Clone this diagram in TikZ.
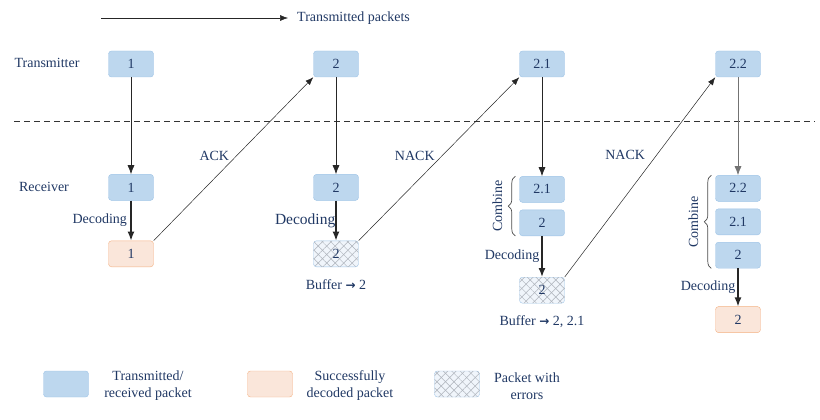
\documentclass[tikz,border=0pt]{standalone}
\usepackage{fontspec}
\setmainfont{Liberation Serif}
\newfontfamily\arrowfont{DejaVu Sans}
\usetikzlibrary{arrows.meta,positioning,calc,decorations.pathreplacing,patterns.meta}
\definecolor{navy}{RGB}{32,56,100}
\definecolor{pktblue}{RGB}{189,215,238}
\definecolor{pktedge}{RGB}{157,195,230}
\definecolor{okfill}{RGB}{250,230,218}
\definecolor{okedge}{RGB}{244,177,131}
\definecolor{errfill}{RGB}{240,245,251}
\definecolor{hatch}{RGB}{172,178,186}
\newcommand{\buffarrow}{{\arrowfont\bfseries\fontsize{12}{14}\selectfont →}}

\begin{document}
\begin{tikzpicture}[x=1pt, y=-1pt, font=\fontsize{14}{17}\selectfont, text=navy,
                    box/.style={draw=pktedge, fill=pktblue, rounded corners=3pt, minimum width=45pt, minimum height=26pt, inner sep=0pt, text centered},
                    okbox/.style={box, draw=okedge, fill=okfill},
                    errbox/.style={box, fill=errfill,
                        postaction={pattern={Lines[angle=45,distance=6pt,line width=0.5pt]}, pattern color=hatch},
                        postaction={pattern={Lines[angle=-45,distance=6pt,line width=0.5pt]}, pattern color=hatch}},
                    line/.style={draw=black!85, line width=0.7pt, -{Latex[length=9pt,width=7pt]}},
                    thick line/.style={line, line width=1.4pt},
                    thin line/.style={draw=black!85, line width=0.5pt, -{Latex[length=8pt,width=6pt]}},
                    brace/.style={draw=black!70, line width=0.7pt, decorate, decoration={brace, amplitude=7pt}},
                    lbl/.style={text=navy}]
    \useasboundingbox (0,0) rectangle (820,420);

    % Nodes
    \coordinate (arrowstart) at (101,18);
    \node [lbl, anchor=west, inner xsep=9pt] (txpackets) at (288,18) {Transmitted packets};
    \coordinate (dashL) at (14,121);
    \coordinate (dashR) at (815,121);
    \node [lbl] (txname) at (47,63)  {Transmitter};
    \node [lbl] (rxname) at (44,187) {Receiver};

    \node [box]                         (tx1)   at (131,64) {1};
    \node [box]                         (tx2)   at (336,64) {2};
    \node [box]                         (tx21)  at (542,64) {2.1};
    \node [box]                         (tx22)  at (738,64) {2.2};
    \node [box, below=97pt of tx1]      (rx1)   {1};
    \node [okbox, below=40pt of rx1]    (ok1)   {1};
    \node [box, below=97pt of tx2]      (rx2)   {2};
    \node [errbox, below=40pt of rx2]   (err2)  {2};
    \node [lbl, below=9pt of err2]      (buf2)  {Buffer \buffarrow{} 2};
    \node [box, below=99pt of tx21]     (rx21)  {2.1};
    \node [box, below=7pt of rx21]      (rx2b)  {2};
    \node [errbox, below=41pt of rx2b]  (err3)  {2};
    \node [lbl, below=9pt of err3]      (buf3)  {Buffer \buffarrow{} 2, 2.1};
    \node [box, below=98pt of tx22]     (rx22)  {2.2};
    \node [box, below=7pt of rx22]      (rx21b) {2.1};
    \node [box, below=7pt of rx21b]     (rx2c)  {2};
    \node [okbox, below=38pt of rx2c]   (ok2)   {2};
    \node [lbl, rotate=90] (comb3) at ($(rx21.south west)!0.5!(rx2b.north west) + (-22,0)$) {Combine};
    \node [lbl, rotate=90] (comb4) at ($(rx21b.west) + (-22,0)$) {Combine};

    % Legend
    \node [box]                (keytx)   at (66,384)  {};
    \node [lbl, align=center]  (keytxt)  at (148,386) {Transmitted/\\received packet};
    \node [okbox]              (keyok)   at (270,384) {};
    \node [lbl, align=center]  (keyokt)  at (350,386) {Successfully\\decoded packet};
    \node [errbox]             (keyerr)  at (457,384) {};
    \node [lbl, align=center]  (keyerrt) at (527,386) {Packet with\\errors};

    % Paths
    \path [thin line] (arrowstart) -- (txpackets);
    \draw [black!80, line width=0.6pt, dash pattern=on 6pt off 4pt] (dashL) -- (dashR);
    \path [line] (tx1) -- (rx1);
    \path [thick line] (rx1) -- node [lbl, midway, left] {Decoding} (ok1);
    \path [thin line] (ok1.north east) -- node [lbl, pos=0.52, left=4pt] {ACK} (tx2.south west);
    \path [line] (tx2) -- (rx2);
    \path [thick line] (rx2) -- node [lbl, midway, left, inner xsep=0pt, font=\fontsize{15.5}{18}\selectfont] {Decoding} (err2);
    \path [thin line] (err2.north east) -- node [lbl, pos=0.52, left=4pt] {NACK} (tx21.south west);
    \path [line] (tx21) -- (rx21);
    \path [thick line] (rx2b) -- node [lbl, midway, left, inner xsep=2pt] {Decoding} (err3);
    \path [thin line] (err3.north east) -- node [lbl, pos=0.61, left=8pt] {NACK} (tx22.south west);
    \path [line, draw=black!55] (tx22) -- (rx22);
    \path [thick line] (rx2c) -- node [lbl, midway, left, inner xsep=2pt] {Decoding} (ok2);
    \path [brace] ([xshift=-4pt]rx2b.south west) -- ([xshift=-4pt]rx21.north west);
    \path [brace] ([xshift=-4pt]rx2c.south west) -- ([xshift=-4pt]rx22.north west);
\end{tikzpicture}
\end{document}
